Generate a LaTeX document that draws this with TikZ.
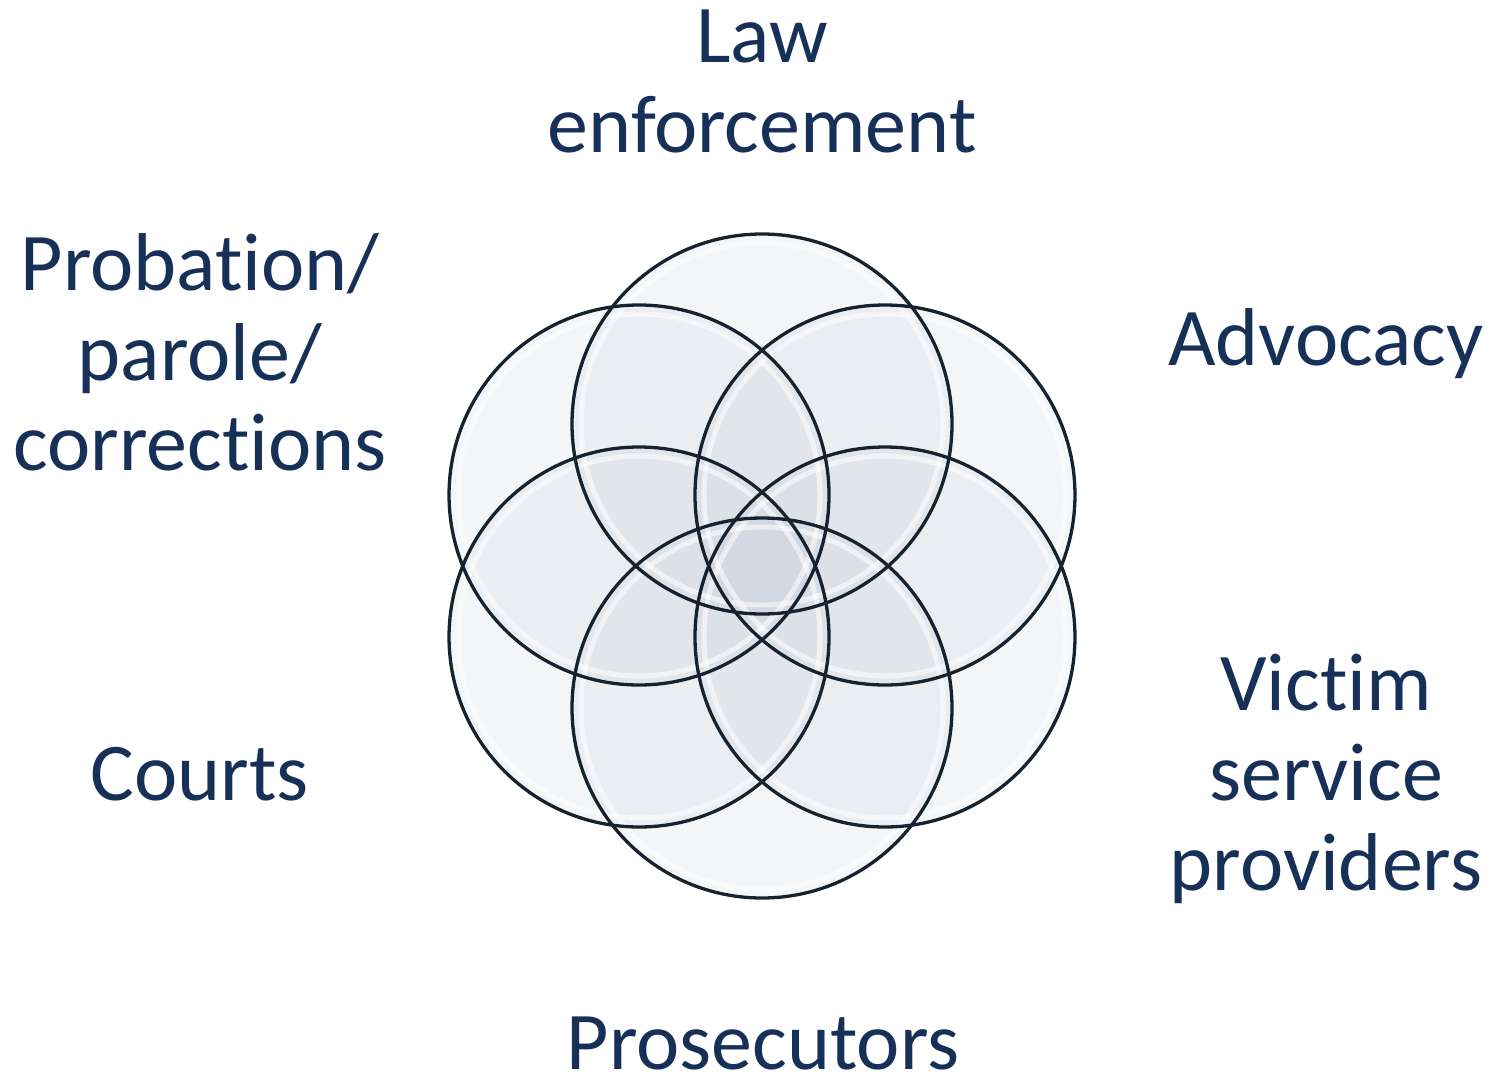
\documentclass[tikz,border=0pt]{standalone}
\usepackage{fontspec}
\setmainfont{Carlito}[Ligatures={NoCommon,NoContextual},Contextuals=NoAlternate]
\usetikzlibrary{calc}
\definecolor{navytext}{HTML}{173058}
\definecolor{ringline}{HTML}{17222F}
\definecolor{ringfill}{HTML}{C4CCD8}
\newcommand{\nolig}{\kern0pt }
\begin{document}
\begin{tikzpicture}[x=1pt,y=-1pt,
  ringfillst/.style={fill=ringfill,fill opacity=0.2},
  ringglow/.style={draw=white,line width=5pt,draw opacity=0.55},
  ringedge/.style={draw=ringline,line width=3.3pt},
  lbl/.style={text=navytext,font=\fontsize{82}{90}\selectfont,align=center,inner sep=0pt,anchor=base}]
\useasboundingbox (0,0) rectangle (1490,1079);
\coordinate (c) at (762,566);
\foreach \a in {90,150,210,270,330,30}{
  \path[ringfillst] ($(c)+({142*cos(\a)},{-142*sin(\a)})$) circle[radius=190];
}
\foreach \a in {90,150,210,270,330,30}{
  \path[ringglow] ($(c)+({142*cos(\a)},{-142*sin(\a)})$) circle[radius=181];
}
\foreach \a in {90,150,210,270,330,30}{
  \path[ringedge] ($(c)+({142*cos(\a)},{-142*sin(\a)})$) circle[radius=190];
}
\node[lbl] (law) at (762,152) {Law\\enforcement};
\node[lbl] (prob) at (200,470) {Probat\nolig ion/\\parole/\\correct\nolig ions};
\node[lbl] (adv) at (1326,365) {Advocacy};
\node[lbl] (courts) at (200,800) {Courts};
\node[lbl] (vict) at (1326,890) {Vict\nolig im\\service\\providers};
\node[lbl] (pros) at (763,1069) {Prosecutors};
\end{tikzpicture}
\end{document}
